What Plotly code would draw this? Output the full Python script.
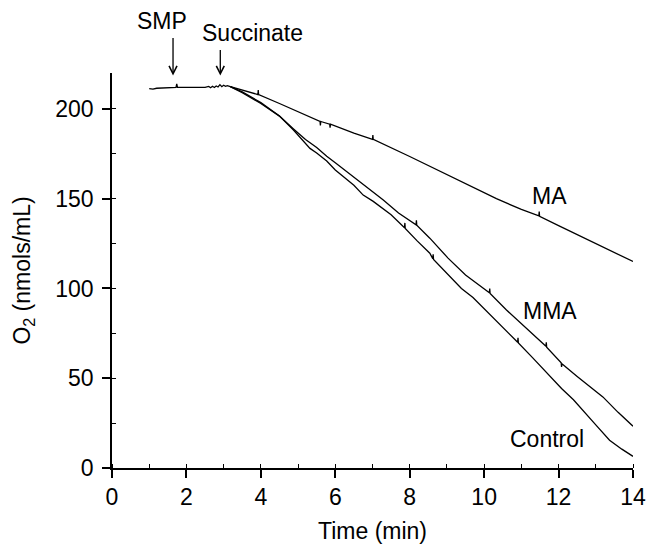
import plotly.graph_objects as go

# Baseline before additions (shared by all traces)
base_t = [1.00, 1.10, 1.20, 1.40, 1.60, 1.72, 1.74, 1.76, 1.90, 2.10, 2.30, 2.50, 2.60, 2.65, 2.70,
          2.75, 2.80, 2.85, 2.90, 2.95, 3.00, 3.05, 3.10, 3.18]
base_o2 = [211.3, 211.0, 211.5, 211.6, 211.8, 212.0, 214.0, 212.0, 212.0, 211.9, 212.1, 212.0, 212.5, 211.8, 212.6,
           211.9, 212.8, 212.2, 213.5, 212.4, 213.2, 212.6, 213.0, 212.4]

ma_t = [3.18, 3.50, 3.92, 3.93, 3.94, 4.50, 5.00, 5.59, 5.60, 5.61, 5.85, 5.86, 5.87, 6.50, 7.00, 7.01,
        7.02, 8.00, 8.54, 9.00, 10.00, 10.33, 11.00, 11.47, 11.48, 11.49, 12.00, 13.00, 14.00]
ma_o2 = [212.4, 210.5, 208.0, 210.5, 208.0, 203.0, 198.5, 193.0, 190.8, 193.0, 191.5, 189.5, 191.5, 186.5, 183.0, 185.5,
         183.0, 173.5, 168.0, 163.5, 153.5, 150.0, 144.0, 140.4, 142.8, 140.2, 135.0, 125.0, 115.0]

mma_t = [3.18, 3.50, 4.00, 4.50, 4.87, 5.20, 5.50, 5.77, 6.00, 6.50, 7.02, 7.29, 7.70, 8.17, 8.18, 8.19,
         8.54, 9.03, 9.50, 10.14, 10.15, 10.16, 10.60, 11.00, 11.66, 11.67, 11.68, 12.07, 12.08, 12.09,
         12.50, 13.19, 13.60, 14.00]
mma_o2 = [212.4, 209.5, 203.5, 196.0, 189.0, 183.0, 178.5, 173.6, 170.0, 162.0, 154.0, 149.3, 142.0, 135.4, 138.0, 135.2,
          128.0, 116.9, 107.5, 97.6, 100.0, 97.2, 88.0, 80.5, 67.8, 70.0, 67.3, 58.6, 56.3, 58.0,
          51.0, 39.6, 31.0, 23.3]

ctl_t = [3.18, 3.50, 4.00, 4.50, 4.87, 5.10, 5.32, 5.50, 5.77, 6.00, 6.50, 6.75, 7.02, 7.50, 7.86, 7.87,
         7.88, 8.20, 8.54, 8.62, 8.63, 8.64, 9.00, 9.39, 9.70, 9.96, 10.30, 10.60, 10.90, 10.91, 10.92, 11.30, 11.70,
         12.08, 12.40, 12.66, 13.00, 13.37, 13.70, 14.00]
ctl_o2 = [212.4, 209.0, 203.0, 196.0, 188.4, 183.0, 178.0, 175.5, 171.0, 166.0, 157.5, 152.0, 148.5, 141.0, 133.8, 136.5,
          133.4, 126.5, 119.6, 116.6, 119.0, 116.2, 108.5, 100.0, 95.0, 89.5, 82.5, 76.0, 70.0, 72.5, 69.6, 61.5, 52.5,
          44.3, 38.0, 32.2, 24.0, 15.5, 10.5, 6.5]

series_labels = ["MA", "MMA", "Control"]
label_x = [11.76, 11.78, 11.70]
label_y = [151.6, 87.7, 16.0]

event_labels = ["SMP", "Succinate"]
event_t = [1.64, 2.91]
event_label_x = [1.34, 3.77]
event_label_yfrac = [1.131, 1.102]   # vertical position as fraction of the plot height

FONT = "Liberation Sans, Arial, sans-serif"
FS = 23
LINE = dict(color="black", width=1.3)

fig = go.Figure()
for t, o in [(base_t, base_o2), (ma_t, ma_o2), (mma_t, mma_o2), (ctl_t, ctl_o2)]:
    fig.add_trace(go.Scatter(x=t, y=o, mode="lines", line=LINE, showlegend=False, hoverinfo="skip"))

for txt, lx, ly in zip(series_labels, label_x, label_y):
    fig.add_annotation(x=lx, y=ly, text=txt, showarrow=False, font=dict(size=FS, color="black", family=FONT))

arrow_len = [-39, -27]
for txt, et, lx, ly, al in zip(event_labels, event_t, event_label_x, event_label_yfrac, arrow_len):
    fig.add_annotation(x=lx, y=ly, xref="x", yref="paper", text=txt, showarrow=False, yanchor="middle",
                       font=dict(size=FS, color="black", family=FONT))
    fig.add_annotation(x=et, y=218.6, text="", showarrow=True, ax=0, ay=al,
                       arrowhead=5, arrowsize=1.2, arrowwidth=1.3, arrowcolor="black", standoff=0)

fig.update_layout(
    width=661, height=545,
    margin=dict(l=112, r=28, t=73, b=77),
    paper_bgcolor="white", plot_bgcolor="white",
    font=dict(family=FONT, size=FS, color="black"),
)
fig.update_xaxes(
    range=[0, 14], showline=True, linecolor="black", linewidth=1.5, automargin=False,
    ticks="outside", ticklen=8, tickwidth=1.5, tickcolor="black",
    tickfont=dict(family=FONT, size=FS, color="black"),
    tickmode="linear", tick0=0, dtick=2, showgrid=False, zeroline=False,
    minor=dict(ticks="inside", ticklen=4, tickwidth=1.2, tickcolor="black", dtick=1, tick0=0, showgrid=False),
    title=dict(text="Time (min)", font=dict(family=FONT, size=FS, color="black"), standoff=14),
)
fig.update_yaxes(
    range=[0, 220], showline=True, linecolor="black", linewidth=1.5, automargin=False,
    ticks="outside", ticklen=8, tickwidth=1.5, tickcolor="black",
    tickfont=dict(family=FONT, size=FS, color="black"), ticklabelstandoff=4,
    tickmode="linear", tick0=0, dtick=50, showgrid=False, zeroline=False,
    minor=dict(ticks="inside", ticklen=4, tickwidth=1.2, tickcolor="black", dtick=25, tick0=0, showgrid=False),
    title=dict(text="O<sub>2</sub> (nmols/mL)", font=dict(family=FONT, size=FS, color="black"), standoff=18),
)

fig.write_html("out.html")
